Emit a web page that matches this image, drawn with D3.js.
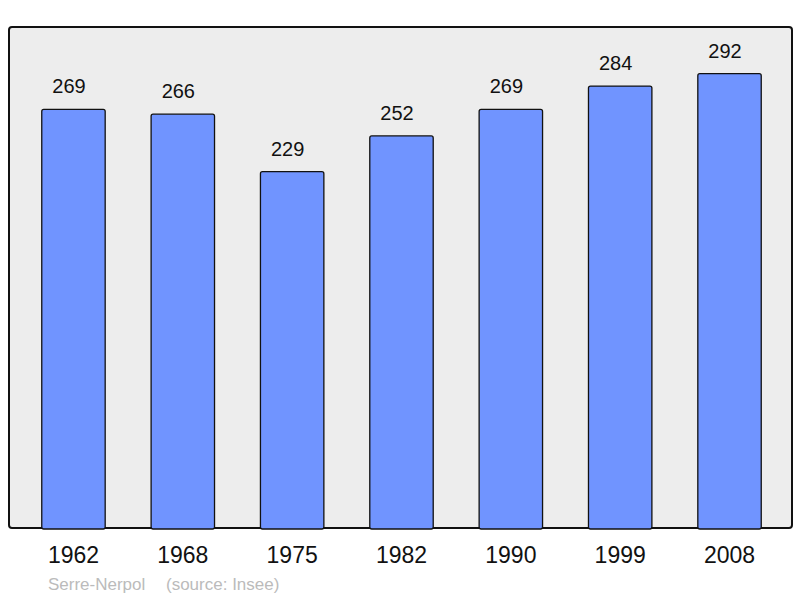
<!DOCTYPE html>
<html>
<head>
<meta charset="utf-8">
<script src="https://cdn.jsdelivr.net/npm/d3@7"></script>
<style>
body{margin:0;background:#fff;}
text{font-family:"Liberation Sans",Arial,sans-serif;}
</style>
</head>
<body>
<div id="chart"></div>
<script>
// données population
var years = ["1962","1968","1975","1982","1990","1999","2008"];
var population = [269,266,229,252,269,284,292];
var commune = "Serre-Nerpol";
var source = "(source: Insee)";

var W=800, H=598;
var box={x1:9,y1:27,x2:792,y2:528};

var svg=d3.select("#chart").append("svg")
	.attr("width",W)
	.attr("height",H);

svg.append("rect")
	.attr("x",box.x1)
	.attr("y",box.y1)
	.attr("width",box.x2-box.x1)
	.attr("height",box.y2-box.y1)
	.attr("rx",3)
	.attr("fill","#ededed")
	.attr("stroke","#111")
	.attr("stroke-width",2);

var x=d3.scaleBand()
	.domain(years)
	.range([18.8,784.2])
	.paddingInner(0.42)
	.paddingOuter(0.21);

var y=d3.scaleLinear()
	.domain([0,322])
	.range([box.y2,box.y1]);

var data=years.map((d,i)=>({year:d,v:population[i]}));

svg.selectAll("rect.bar")
	.data(data)
	.enter()
	.append("rect")
	.attr("class","bar")
	.attr("x",d=>x(d.year))
	.attr("y",d=>y(d.v))
	.attr("width",x.bandwidth())
	.attr("height",d=>box.y2-y(d.v)+1)
	.attr("rx",2)
	.attr("fill","#7094ff")
	.attr("stroke","#111")
	.attr("stroke-width",1.3);

// valeurs au-dessus des barres
svg.selectAll("text.val")
	.data(data)
	.enter()
	.append("text")
	.attr("class","val")
	.attr("x",d=>x(d.year)+x.bandwidth()/2-4.5)
	.attr("y",d=>y(d.v)-16)
	.attr("text-anchor","middle")
	.attr("font-size",20)
	.attr("fill","#111")
	.text(d=>d.v);

// axe des années
var xAxis=svg.append("g")
	.attr("transform","translate(0,"+box.y2+")")
	.call(d3.axisBottom(x).tickSize(0).tickPadding(19));
xAxis.select(".domain").remove();
xAxis.selectAll("text")
	.attr("font-size",23)
	.attr("font-family","Liberation Sans, Arial, sans-serif")
	.attr("fill","#111");

svg.append("text")
	.attr("x",48)
	.attr("y",590)
	.attr("font-size",17)
	.attr("fill","#bbb")
	.text(commune);
svg.append("text")
	.attr("x",166)
	.attr("y",590)
	.attr("font-size",17)
	.attr("fill","#bbb")
	.text(source);
</script>
</body>
</html>
